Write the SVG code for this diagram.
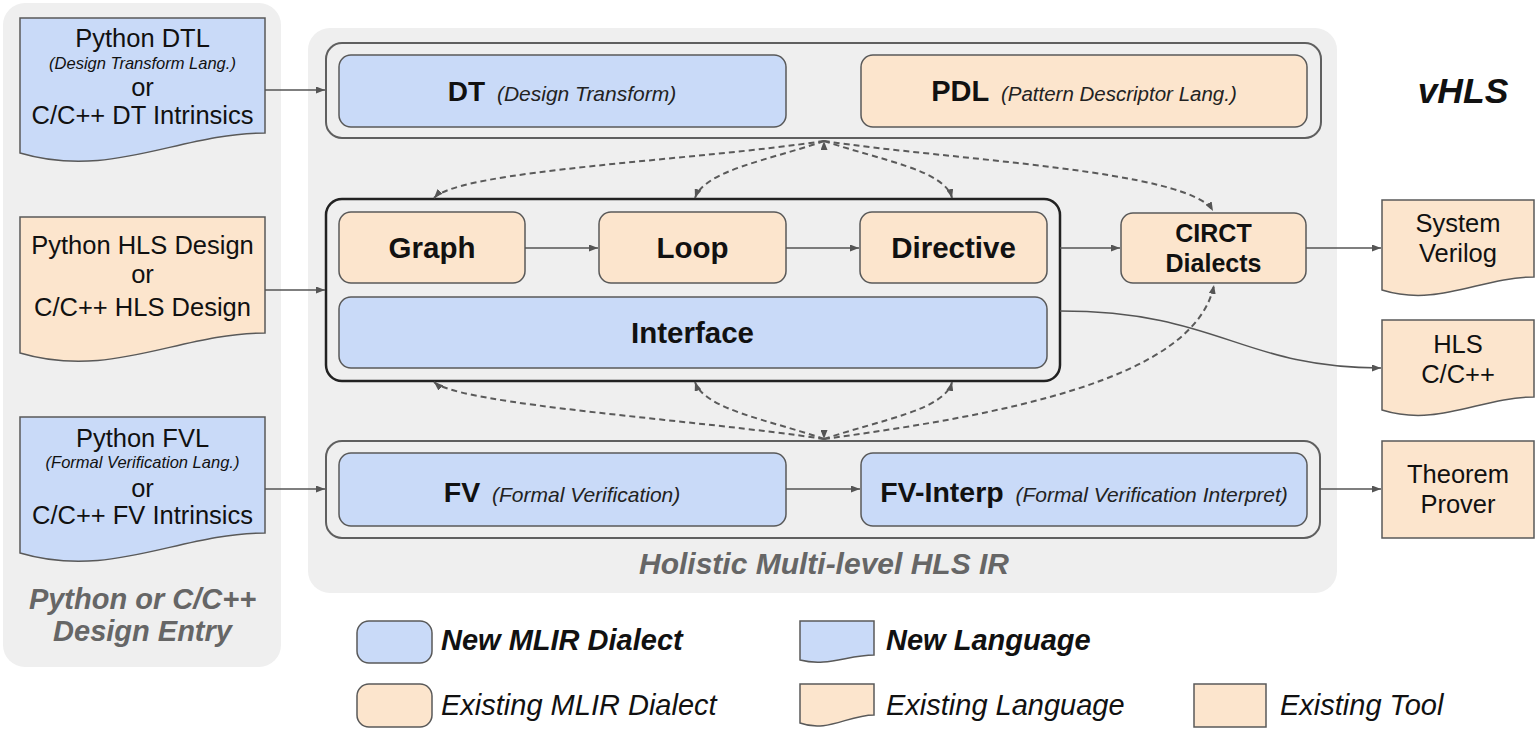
<svg xmlns="http://www.w3.org/2000/svg" width="1537" height="730" viewBox="0 0 1537 730">
<style>
text{font-family:"Liberation Sans",Arial,sans-serif;fill:#111}
.panel{fill:#efefef;stroke:none}
.cont{fill:none;stroke:#5f5f5f;stroke-width:2}
.contd{fill:none;stroke:#222;stroke-width:2.5}
.blue{fill:#c9daf8;stroke:#595959;stroke-width:1.5}
.orng{fill:#fce5cd;stroke:#595959;stroke-width:1.5}
.b{font-weight:bold}
.i{font-style:italic;fill:#222}
.t29{font-size:29.5px;font-weight:bold}
.doc{font-size:25.5px}
.sub{font-size:16.5px;font-style:italic}
.out{font-size:25.5px}
.gray{fill:#666;font-weight:bold;font-style:italic}
.leg{font-size:29px;font-style:italic}
.conn{fill:none;stroke:#555;stroke-width:1.5}
.dash{fill:none;stroke:#5a5a5a;stroke-width:2;stroke-dasharray:6 4}
</style>
<defs>
<marker id="ah" markerUnits="userSpaceOnUse" markerWidth="9" markerHeight="7" refX="9" refY="3.5" orient="auto"><path d="M0,0 L9,3.5 L0,7 z" fill="#555" stroke="none"/></marker>
<marker id="ahUp" markerUnits="userSpaceOnUse" markerWidth="9" markerHeight="7" refX="9" refY="3.5" orient="270"><path d="M0,0 L9,3.5 L0,7 z" fill="#555" stroke="none"/></marker>
<marker id="ahDown" markerUnits="userSpaceOnUse" markerWidth="9" markerHeight="7" refX="9" refY="3.5" orient="90"><path d="M0,0 L9,3.5 L0,7 z" fill="#555" stroke="none"/></marker>
</defs>

<!-- background panels -->
<g id="entry-panel">
<rect class="panel" x="3" y="3" width="278" height="664" rx="22"/>
<text class="gray" x="142.5" y="609" font-size="29" text-anchor="middle">Python or C/C++</text>
<text class="gray" x="142.5" y="641" font-size="29" text-anchor="middle">Design Entry</text>
</g>
<g id="ir-panel">
<rect class="panel" x="308" y="28" width="1029" height="565" rx="22"/>
<text class="gray" x="824" y="574" font-size="30" text-anchor="middle">Holistic Multi-level HLS IR</text>
</g>
<text id="title" x="1463" y="103" font-size="35.5" font-weight="bold" font-style="italic" text-anchor="middle">vHLS</text>

<!-- containers -->
<g id="top-container"><rect class="cont" x="326" y="43" width="995" height="95" rx="16"/></g>
<g id="mid-container"><rect class="contd" x="326" y="199" width="734" height="182" rx="16"/></g>
<g id="fv-container"><rect class="cont" x="326" y="441" width="994" height="97" rx="16"/></g>

<!-- input documents -->
<g id="python-dtl">
<path class="blue" d="M20,18 H265 V133 C179,133 111,180 20,153 Z"/>
<text class="doc" x="142.5" y="47" text-anchor="middle">Python DTL</text>
<text class="sub" x="142.5" y="69" text-anchor="middle">(Design Transform Lang.)</text>
<text class="doc" x="142.5" y="96" text-anchor="middle">or</text>
<text class="doc" x="142.5" y="124" text-anchor="middle">C/C++ DT Intrinsics</text>
</g>
<g id="python-hls">
<path class="orng" d="M20,217 H265 V333 C179,333 111,380 20,353 Z"/>
<text class="doc" x="142.5" y="254" text-anchor="middle">Python HLS Design</text>
<text class="doc" x="142.5" y="283" text-anchor="middle">or</text>
<text class="doc" x="142.5" y="316" text-anchor="middle">C/C++ HLS Design</text>
</g>
<g id="python-fvl">
<path class="blue" d="M20,417 H265 V533 C179,533 111,580 20,553 Z"/>
<text class="doc" x="142.5" y="447" text-anchor="middle">Python FVL</text>
<text class="sub" x="142.5" y="468" text-anchor="middle">(Formal Verification Lang.)</text>
<text class="doc" x="142.5" y="497" text-anchor="middle">or</text>
<text class="doc" x="142.5" y="524" text-anchor="middle">C/C++ FV Intrinsics</text>
</g>

<!-- dialect nodes -->
<g id="dt">
<rect class="blue" x="339" y="55" width="447" height="72" rx="12"/>
<text x="562" y="101" text-anchor="middle"><tspan class="b" font-size="28">DT</tspan><tspan class="i" font-size="21" dx="6"> (Design Transform)</tspan></text>
</g>
<g id="pdl">
<rect class="orng" x="861" y="55" width="446" height="72" rx="12"/>
<text x="1084" y="101" text-anchor="middle"><tspan class="b" font-size="29">PDL</tspan><tspan class="i" font-size="20.5" dx="6"> (Pattern Descriptor Lang.)</tspan></text>
</g>
<g id="graph">
<rect class="orng" x="339" y="212" width="186" height="71" rx="12"/>
<text class="t29" x="432" y="258" text-anchor="middle">Graph</text>
</g>
<g id="loop">
<rect class="orng" x="599" y="212" width="187" height="71" rx="12"/>
<text class="t29" x="692.5" y="258" text-anchor="middle">Loop</text>
</g>
<g id="directive">
<rect class="orng" x="860" y="212" width="187" height="71" rx="12"/>
<text class="t29" x="953.5" y="258" text-anchor="middle">Directive</text>
</g>
<g id="interface">
<rect class="blue" x="339" y="297" width="708" height="71" rx="12"/>
<text class="t29" x="692.5" y="343" text-anchor="middle">Interface</text>
</g>
<g id="circt">
<rect class="orng" x="1121" y="213" width="185" height="70" rx="12"/>
<text x="1213.5" y="242" font-size="25" font-weight="bold" text-anchor="middle">CIRCT</text>
<text x="1213.5" y="272" font-size="25" font-weight="bold" text-anchor="middle">Dialects</text>
</g>
<g id="fv">
<rect class="blue" x="339" y="453" width="447" height="73" rx="12"/>
<text x="562" y="502" text-anchor="middle"><tspan class="b" font-size="28.5">FV</tspan><tspan class="i" font-size="21" dx="6"> (Formal Verification)</tspan></text>
</g>
<g id="fv-interp">
<rect class="blue" x="861" y="453" width="446" height="73" rx="12"/>
<text x="1084" y="502" text-anchor="middle"><tspan class="b" font-size="28.5">FV-Interp</tspan><tspan class="i" font-size="21" dx="6"> (Formal Verification Interpret)</tspan></text>
</g>

<!-- outputs -->
<g id="system-verilog">
<path class="orng" d="M1382,200 H1534 V277 C1481,277 1438,307.5 1382,290 Z"/>
<text class="out" x="1458" y="232" text-anchor="middle">System</text>
<text class="out" x="1458" y="262" text-anchor="middle">Verilog</text>
</g>
<g id="hls-cpp">
<path class="orng" d="M1382,320 H1534 V397 C1481,397 1438,427.5 1382,410 Z"/>
<text class="out" x="1458" y="353" text-anchor="middle">HLS</text>
<text class="out" x="1458" y="383" text-anchor="middle">C/C++</text>
</g>
<g id="theorem-prover">
<rect class="orng" x="1382" y="441" width="152" height="97"/>
<text class="out" x="1458" y="483" text-anchor="middle">Theorem</text>
<text class="out" x="1458" y="513" text-anchor="middle">Prover</text>
</g>

<!-- connectors -->
<g id="connectors">
<path class="conn" d="M265,90 H325" marker-end="url(#ah)"/>
<path class="conn" d="M265,290 H325" marker-end="url(#ah)"/>
<path class="conn" d="M265,489 H325" marker-end="url(#ah)"/>
<path class="conn" d="M525,248 H598" marker-end="url(#ah)"/>
<path class="conn" d="M786,248 H859" marker-end="url(#ah)"/>
<path class="conn" d="M1060,248 H1120" marker-end="url(#ah)"/>
<path class="conn" d="M1306,248 H1381" marker-end="url(#ah)"/>
<path class="conn" d="M1060,311 C1220,311 1240,368 1381,368" marker-end="url(#ah)"/>
<path class="conn" d="M786,489 H860" marker-end="url(#ah)"/>
<path class="conn" d="M1320,489 H1381" marker-end="url(#ah)"/>
<path class="dash" d="M824,141 C700,160 460,170 434,198" marker-start="url(#ahUp)" marker-end="url(#ah)"/>
<path class="dash" d="M824,141 C770,160 705,170 695,198" marker-end="url(#ah)"/>
<path class="dash" d="M824,141 C880,160 945,170 952,198" marker-end="url(#ah)"/>
<path class="dash" d="M824,141 C950,160 1190,170 1213,211" marker-end="url(#ah)"/>
<path class="dash" d="M824,439 C700,420 460,405 434,382" marker-start="url(#ahDown)" marker-end="url(#ah)"/>
<path class="dash" d="M824,439 C770,420 705,410 695,382" marker-end="url(#ah)"/>
<path class="dash" d="M824,439 C880,420 945,410 952,382" marker-end="url(#ah)"/>
<path class="dash" d="M824,439 C1000,415 1195,380 1214,285" marker-end="url(#ah)"/>
</g>

<!-- legend -->
<g id="legend">
<rect class="blue" x="357" y="621" width="75" height="42" rx="12"/>
<text class="leg b" x="441" y="650">New MLIR Dialect</text>
<rect class="orng" x="357" y="684" width="75" height="43" rx="12"/>
<text class="leg" x="441" y="715">Existing MLIR Dialect</text>
<path class="blue" d="M800,621 H874 V655 C848,655 827,667 800,660 Z"/>
<text class="leg b" x="886" y="650">New Language</text>
<path class="orng" d="M800,684 H874 V715 C848,715 827,733 800,723 Z"/>
<text class="leg" x="886" y="715">Existing Language</text>
<rect class="orng" x="1194" y="684" width="72" height="43"/>
<text class="leg" x="1280" y="715">Existing Tool</text>
</g>
</svg>
